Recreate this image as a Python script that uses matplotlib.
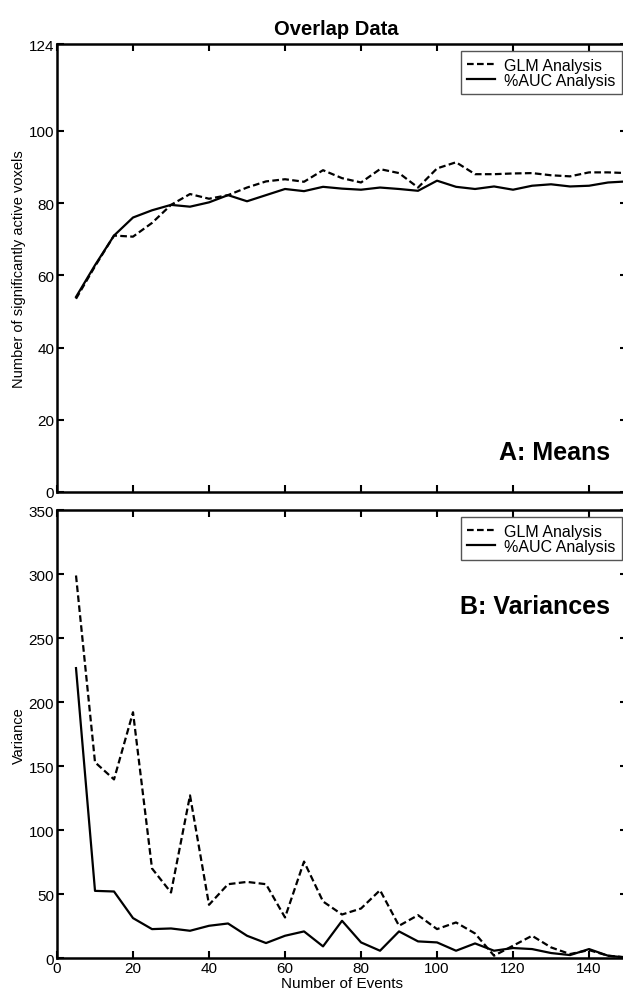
import matplotlib
matplotlib.use("Agg")
import matplotlib.pyplot as plt

plt.rcParams['font.family'] = ['Liberation Sans', 'DejaVu Sans']

# numero de eventos
eventos = list(range(5, 151, 5))

# medias (painel A)
glm_medias = [53.5, 62.5, 71.0, 70.7, 74.5, 79.5, 82.5, 81.2, 82.2, 84.3,
              86.0, 86.6, 85.9, 89.1, 86.9, 85.7, 89.4, 88.3, 84.3, 89.6,
              91.3, 88.0, 88.0, 88.2, 88.3, 87.7, 87.4, 88.5, 88.5, 88.3]
auc_medias = [54.0, 62.8, 71.0, 76.0, 78.0, 79.5, 79.0, 80.2, 82.2, 80.5,
              82.2, 83.9, 83.3, 84.5, 84.0, 83.7, 84.3, 83.9, 83.4, 86.2,
              84.5, 83.9, 84.6, 83.7, 84.8, 85.2, 84.6, 84.8, 85.7, 86.0]

# variancias (painel B)
glm_var = [299.0, 153.0, 139.6, 192.1, 70.0, 51.2, 127.1, 41.6, 57.7, 59.5,
           57.7, 31.7, 75.4, 44.2, 34.0, 38.7, 53.0, 25.2, 33.5, 22.6,
           27.8, 19.2, 1.8, 9.6, 17.4, 8.3, 3.1, 6.2, 1.8, 0.5]
auc_var = [226.6, 52.5, 52.0, 31.2, 22.6, 23.1, 21.3, 25.2, 27.0, 17.4,
           11.7, 17.4, 20.8, 9.1, 29.1, 12.2, 5.7, 20.8, 13.0, 12.2,
           5.7, 11.4, 5.7, 7.8, 7.0, 3.9, 2.3, 7.0, 1.8, 0.3]

fig = plt.figure(figsize=(6.23, 10.04), dpi=100)
fig.patch.set_facecolor('white')

ax1 = fig.add_axes([0.0915, 0.509, 0.915, 0.446])
ax2 = fig.add_axes([0.0915, 0.0448, 0.915, 0.446])

tracejado = (0, (3, 1.5))

for ax in (ax1, ax2):
    ax.set_xlim(0, 150)
    ax.set_xticks(range(0, 141, 20))
    ax.tick_params(direction='in', length=5, width=1.5, top=True, right=True,
                   labelsize=11, pad=2)
    for spine in ax.spines.values():
        spine.set_linewidth(1.8)

estilo_legenda = dict(loc='upper right', bbox_to_anchor=(0.991, 0.984), fontsize=11.5,
                      handlelength=1.7, handletextpad=0.6, borderpad=0.4,
                      labelspacing=0.0, fancybox=False, framealpha=1,
                      edgecolor='#555555', borderaxespad=0)

# Painel A
ax1.plot(eventos, glm_medias, color='black', lw=1.6, ls=tracejado, label='GLM Analysis')
ax1.plot(eventos, auc_medias, color='black', lw=1.6, label='%AUC Analysis')
ax1.set_ylim(0, 124)
ax1.set_yticks([0, 20, 40, 60, 80, 100, 124])
ax1.set_xticklabels([])
ax1.set_ylabel('Number of significantly active voxels', fontsize=10.5, labelpad=2)
ax1.set_title('Overlap Data', fontsize=14.5, fontweight='bold', pad=7, x=0.49)
ax1.text(0.97, 0.089, 'A: Means', transform=ax1.transAxes, ha='right', va='center',
         fontsize=18, fontweight='bold')
ax1.legend(**estilo_legenda)

# Painel B
ax2.plot(eventos, glm_var, color='black', lw=1.6, ls=tracejado, label='GLM Analysis')
ax2.plot(eventos, auc_var, color='black', lw=1.6, label='%AUC Analysis')
ax2.set_ylim(0, 350)
ax2.set_yticks(range(0, 351, 50))
ax2.set_ylabel('Variance', fontsize=10.5, labelpad=2)
ax2.set_xlabel('Number of Events', fontsize=11, labelpad=1)
ax2.text(0.97, 0.786, 'B: Variances', transform=ax2.transAxes, ha='right', va='center',
         fontsize=18, fontweight='bold')
ax2.legend(**estilo_legenda)

plt.savefig('out.png', dpi=100, facecolor='white')
plt.close()
